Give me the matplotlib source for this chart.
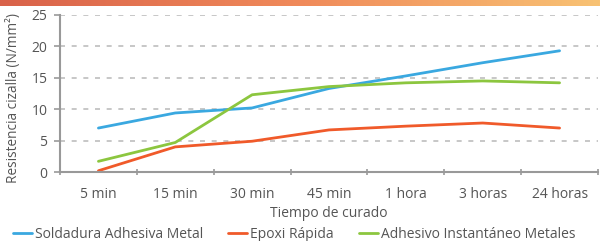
import matplotlib
matplotlib.use("Agg")
import matplotlib.pyplot as plt
import numpy as np
from matplotlib.colors import LinearSegmentedColormap

plt.rcParams['font.family'] = ['Open Sans', 'DejaVu Sans']

categories = ["5 min", "15 min", "30 min", "45 min", "1 hora", "3 horas", "24 horas"]
soldadura = [7.0, 9.4, 10.2, 13.3, 15.3, 17.4, 19.3]
epoxi = [0.2, 4.0, 4.9, 6.7, 7.3, 7.8, 7.0]
instantaneo = [1.7, 4.7, 12.3, 13.6, 14.2, 14.5, 14.2]
series_names = ["Soldadura Adhesiva Metal", "Epoxi Rápida", "Adhesivo Instantáneo Metales"]
colors = ["#3aa8e0", "#f05a2a", "#8cc63f"]

fig = plt.figure(figsize=(6.0, 2.41), dpi=100)

# top gradient band
band = fig.add_axes([0, 1 - 6/241, 1, 6/241])
cmap = LinearSegmentedColormap.from_list("b", ["#d9624a", "#f08a5a", "#f8c274"])
band.imshow(np.linspace(0, 1, 256)[None, :], aspect='auto', cmap=cmap)
band.axis('off')

ax = fig.add_axes([60/600, 1 - 172/241, 538/600, (172 - 15)/241])
x = np.arange(len(categories))
for vals, name, c in zip([soldadura, epoxi, instantaneo], series_names, colors):
    ax.plot(x, vals, color=c, lw=2.0, label=name, solid_capstyle='round')

ax.set_xlim(-0.5, len(categories) - 0.5)
ax.set_ylim(0, 25)
ax.set_yticks([0, 5, 10, 15, 20, 25])
for yv in [5, 10, 15, 20, 25]:
    ax.axhline(yv, color="#bdbdbd", lw=1.2, ls=(0, (3, 4)), zorder=0)

ax.set_xticks(np.arange(len(categories) + 1) - 0.5)
ax.set_xticklabels([])
ax.set_xticks(x, minor=True)
ax.set_xticklabels(categories, minor=True)
ax.tick_params(axis='x', which='major', length=4, color="#999999", width=1.2, direction='inout')
ax.tick_params(axis='x', which='minor', length=0, pad=11, labelsize=10, labelcolor="#555555")
ax.tick_params(axis='y', length=4, color="#999999", width=1.2, labelsize=10, labelcolor="#555555", pad=5)

for s in ['top', 'right']:
    ax.spines[s].set_visible(False)
for s in ['left', 'bottom']:
    ax.spines[s].set_color("#999999")
    ax.spines[s].set_linewidth(1.5)

ax.set_xlabel("Tiempo de curado", fontsize=10, color="#555555", labelpad=3)
ax.set_ylabel("Resistencia cizalla (N/mm²)", fontsize=9.8, color="#555555")
ax.yaxis.set_label_coords(-0.073, 0.474)

fig.legend(loc='lower left', bbox_to_anchor=(0.0, -0.055), ncol=3, frameon=False,
           fontsize=10, handlelength=1.4, handletextpad=0.2, columnspacing=1.8,
           labelcolor="#555555")

fig.savefig("out.png", dpi=100, facecolor="white")
